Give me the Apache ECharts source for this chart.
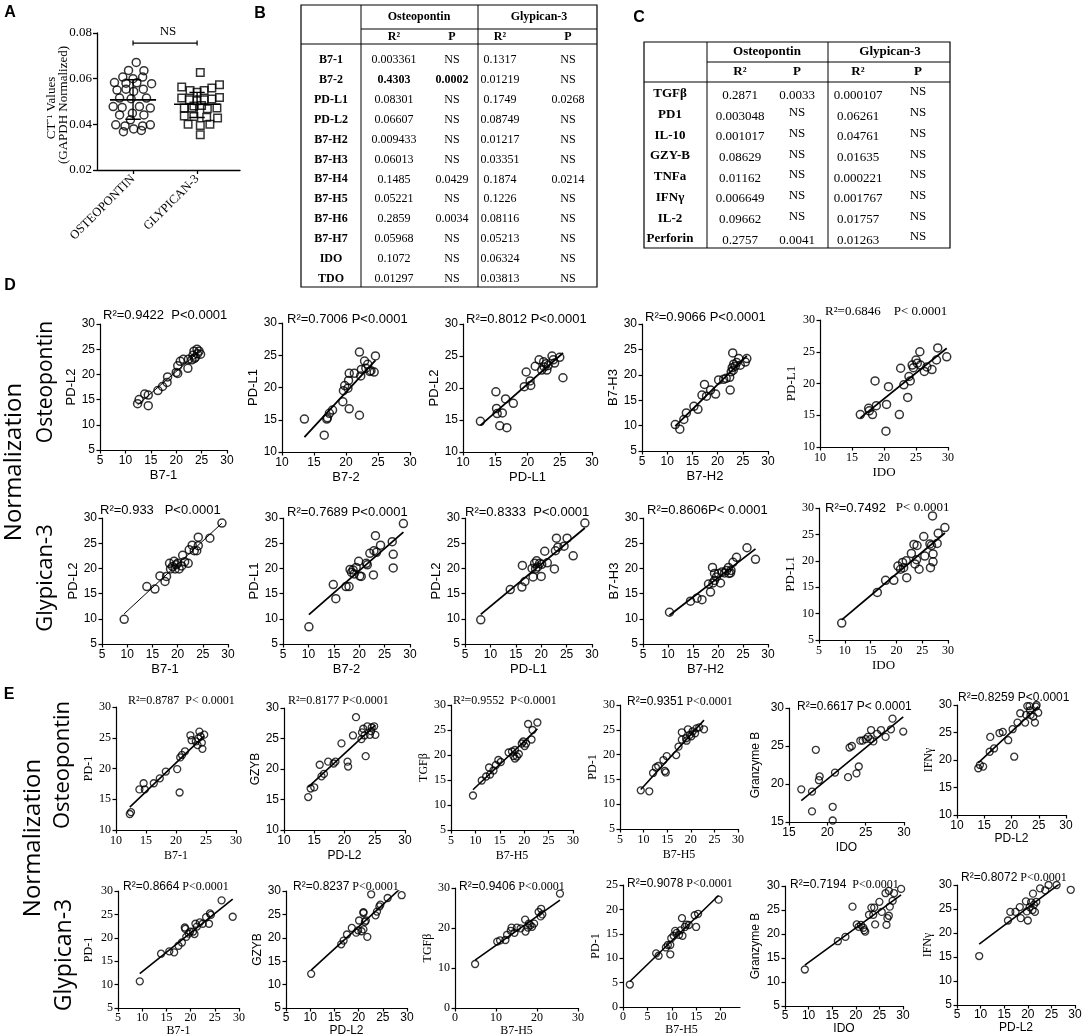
<!DOCTYPE html>
<html><head><meta charset="utf-8">
<script src="https://cdn.jsdelivr.net/npm/echarts@6/dist/echarts.min.js"></script>
<style>html,body{margin:0;padding:0;background:#fff}#c{width:1084px;height:1036px}</style>
</head><body><div id="c"></div>
<script>
// ---------------- Panel A data ----------------
const aCategories = ['OSTEOPONTIN', 'GLYPICAN-3'];
// [horizontal jitter, CT^-1 value]
const aOsteopontin = [[0.05,0.0671],[-0.07,0.0636],[0.17,0.0635],[-0.16,0.0607],[0.0,0.0600],[0.15,0.0607],[-0.29,0.0583],[-0.11,0.0580],[0.06,0.0582],[0.29,0.0578],[-0.25,0.0550],[-0.11,0.0554],[0.01,0.0544],[0.16,0.0554],[-0.21,0.0515],[-0.03,0.0512],[0.21,0.0515],[-0.31,0.0478],[-0.17,0.0474],[0.10,0.0478],[0.27,0.0471],[-0.21,0.0441],[-0.01,0.0449],[0.17,0.0441],[-0.04,0.0420],[-0.27,0.0398],[-0.125,0.0393],[0.15,0.0393],[0.27,0.0398],[0.01,0.0380],[-0.15,0.0368],[0.13,0.0373]];
const aGlypican = [[0.05,0.0627],[-0.24,0.0563],[-0.11,0.0548],[0.0,0.0540],[0.11,0.0548],[0.23,0.0559],[0.35,0.0573],[-0.24,0.0515],[-0.12,0.0508],[0.0,0.0503],[0.11,0.0508],[0.23,0.0511],[0.35,0.0518],[-0.05,0.0480],[0.07,0.0483],[-0.2,0.0471],[-0.08,0.0471],[0.16,0.0468],[0.31,0.0471],[-0.2,0.0437],[-0.05,0.0434],[0.15,0.0431],[0.32,0.0428],[-0.14,0.0400],[0.05,0.0395],[0.2,0.0400],[0.05,0.0354]];
const aMean = [0.0507, 0.0488];
const aSdLow = [0.0422, 0.0430];
const aSdHigh = [0.0595, 0.0540];
const aBracketY = 0.0756;
const aBracketText = 'NS';

// ---------------- Table B ----------------
const bRows = ['B7-1','B7-2','PD-L1','PD-L2','B7-H2','B7-H3','B7-H4','B7-H5','B7-H6','B7-H7','IDO','TDO'];
const bOpnR2 = ['0.003361','0.4303','0.08301','0.06607','0.009433','0.06013','0.1485','0.05221','0.2859','0.05968','0.1072','0.01297'];
const bOpnP  = ['NS','0.0002','NS','NS','NS','NS','0.0429','NS','0.0034','NS','NS','NS'];
const bGpcR2 = ['0.1317','0.01219','0.1749','0.08749','0.01217','0.03351','0.1874','0.1226','0.08116','0.05213','0.06324','0.03813'];
const bGpcP  = ['NS','NS','0.0268','NS','NS','NS','0.0214','NS','NS','NS','NS','NS'];
const bBoldRows = ['B7-2'];   // bold in the Osteopontin columns

// ---------------- Table C ----------------
const cRows = ['TGFβ','PD1','IL-10','GZY-B','TNFa','IFNγ','IL-2','Perforin'];
const cOpnR2 = ['0.2871','0.003048','0.001017','0.08629','0.01162','0.006649','0.09662','0.2757'];
const cOpnP  = ['0.0033','NS','NS','NS','NS','NS','NS','0.0041'];
const cGpcR2 = ['0.000107','0.06261','0.04761','0.01635','0.000221','0.001767','0.01757','0.01263'];
const cGpcP  = ['NS','NS','NS','NS','NS','NS','NS','NS'];
const tableGroups = ['Osteopontin','Glypican-3'];
const tableSub = ['R²','P','R²','P'];

// ---------------- Panel D data [x, y] ----------------
const dOpn_B71_PDL2 = [[12.4,14.2],[12.7,15.0],[13.8,16.1],[14.5,15.9],[14.5,13.8],[16.4,16.8],[17.3,17.6],[18.2,18.4],[18.3,19.5],[20.0,20.4],[20.3,20.2],[20.3,21.7],[20.8,22.6],[21.4,23.0],[22.3,21.2],[22.4,23.0],[23.1,22.9],[23.3,23.8],[23.5,24.6],[23.8,23.4],[24.1,25.0],[24.2,24.1],[24.5,24.6],[24.8,24.0],[23.6,23.2]];
const dOpn_B72_PDL1 = [[13.5,15.1],[16.6,12.6],[17.0,15.1],[17.1,15.3],[17.4,16.0],[17.9,16.5],[19.5,17.8],[19.6,19.5],[19.8,20.3],[20.3,19.9],[20.4,21.1],[20.5,22.2],[20.5,16.7],[21.3,22.2],[22.1,25.5],[22.1,15.7],[22.3,21.8],[22.4,22.8],[22.9,24.1],[23.1,23.0],[23.4,23.6],[23.7,22.5],[24.4,22.4],[24.6,24.9],[23.9,22.6]];
const dOpn_PDL1_PDL2 = [[12.7,14.8],[15.1,19.4],[15.2,16.8],[15.3,16.0],[15.7,14.1],[16.1,16.1],[16.6,18.3],[16.8,13.8],[17.8,17.6],[19.5,20.2],[19.8,22.5],[20.4,21.1],[20.5,20.4],[21.2,23.4],[21.8,24.4],[22.2,22.8],[22.5,24.1],[22.6,23.3],[22.9,23.8],[23.0,22.8],[23.2,23.5],[23.8,25.0],[24.0,24.4],[24.2,23.9],[25.0,24.8],[25.5,21.6]];
const dOpn_B7H2_B7H3 = [[11.6,10.2],[12.5,9.3],[13.3,11.2],[13.8,12.5],[15.3,13.8],[16.1,13.2],[16.9,16.0],[17.4,18.1],[17.8,15.8],[18.6,17.0],[19.6,16.2],[20.2,19.0],[21.2,19.1],[21.7,19.3],[22.4,19.5],[22.5,17.0],[22.7,20.6],[22.9,21.4],[23.0,24.3],[23.1,20.9],[23.2,22.1],[23.5,21.7],[23.8,22.4],[24.2,23.2],[24.5,21.9],[25.5,22.5],[25.8,23.2]];
const dOpn_IDO_PDL1 = [[16.3,15.1],[17.6,16.1],[17.7,15.7],[18.2,15.1],[18.6,20.4],[18.8,16.5],[20.3,12.5],[20.4,16.7],[20.7,19.5],[22.4,15.1],[22.6,22.4],[23.1,19.8],[23.7,17.8],[23.9,21.1],[24.1,20.4],[24.4,22.9],[24.6,22.5],[25.0,23.7],[25.2,23.2],[25.6,25.0],[25.7,22.9],[26.3,21.9],[26.7,22.6],[27.5,22.2],[28.2,23.7],[28.4,25.6],[29.8,24.2]];
const dGpc_B71_PDL2 = [[9.4,9.9],[13.9,16.4],[15.5,15.9],[16.5,18.5],[17.5,17.4],[17.8,18.4],[18.4,21.0],[18.6,19.9],[19.0,20.4],[19.3,21.4],[19.5,19.9],[19.7,20.7],[20.0,21.0],[20.3,19.9],[20.8,20.5],[21.0,22.6],[21.4,21.3],[22.1,21.0],[22.3,23.7],[22.9,24.6],[23.3,23.5],[23.8,23.5],[24.1,26.2],[24.1,24.5],[26.4,26.0],[28.8,29.0]];
const dGpc_B72_PDL1 = [[10.1,8.4],[14.9,16.8],[15.4,14.0],[17.4,16.4],[18.0,16.4],[18.2,19.8],[18.5,19.2],[18.8,19.7],[19.0,18.9],[19.4,20.2],[19.9,21.4],[20.1,18.5],[20.4,18.4],[21.4,21.0],[21.6,20.7],[22.1,23.0],[22.8,18.7],[22.9,23.5],[23.2,26.5],[23.4,23.2],[24.2,24.6],[26.5,25.3],[26.7,22.8],[26.7,20.1],[28.7,28.9]];
const dGpc_PDL1_PDL2 = [[8.1,9.8],[13.9,15.8],[16.2,16.3],[16.3,20.6],[16.8,17.4],[18.2,20.0],[18.4,18.3],[18.7,21.0],[18.9,19.9],[19.1,21.5],[19.3,20.3],[19.7,21.0],[20.0,18.4],[20.1,20.8],[20.7,23.4],[21.2,21.1],[22.6,19.9],[22.8,23.5],[23.0,26.0],[23.3,24.2],[24.5,24.4],[25.1,26.0],[26.3,22.5],[28.6,29.0]];
const dGpc_B7H2_B7H3 = [[10.3,11.3],[14.5,13.5],[15.8,14.1],[16.8,13.8],[18.1,16.9],[18.5,15.3],[18.9,20.2],[19.0,17.1],[19.3,17.6],[19.3,19.0],[19.7,18.3],[20.1,19.0],[20.5,17.1],[20.8,19.3],[21.3,19.1],[21.7,19.6],[22.1,20.2],[22.2,19.0],[22.5,19.1],[22.6,19.6],[23.0,21.2],[23.7,22.2],[25.8,24.1],[27.5,21.8]];
const dGpc_IDO_PDL1 = [[9.4,8.2],[16.3,14.0],[17.9,16.3],[19.5,16.3],[20.3,19.0],[20.8,18.4],[21.2,19.7],[21.4,18.7],[21.9,20.0],[22.0,16.8],[22.9,21.4],[23.4,23.1],[23.6,19.4],[23.9,20.2],[24.0,22.9],[24.4,18.4],[25.3,24.6],[25.5,20.9],[26.5,23.2],[26.6,18.7],[26.8,22.9],[27.1,21.3],[27.1,19.8],[27.9,23.3],[28.1,25.2],[29.4,26.3],[27.0,28.5]];

// ---------------- Panel E data [x, y] ----------------
const eOpn_B71_PD1 = [[12.3,12.6],[12.5,12.9],[13.9,16.6],[14.6,17.6],[14.8,16.6],[16.3,17.6],[17.3,18.4],[18.3,19.5],[20.2,19.9],[20.6,16.1],[20.7,21.8],[21.0,22.2],[21.5,22.8],[22.4,25.4],[22.6,24.6],[23.3,24.4],[23.6,23.8],[23.7,24.9],[23.9,26.0],[24.3,24.2],[24.4,23.2],[24.7,25.5],[24.1,25.2]];
const eOpn_PDL2_GZYB = [[14.0,15.4],[14.4,16.8],[15.0,17.0],[16.2,18.8],[16.6,19.2],[15.9,20.7],[17.3,21.2],[18.2,20.9],[18.5,21.2],[19.5,24.2],[20.5,21.2],[20.6,20.4],[21.4,25.5],[21.9,28.5],[22.8,24.9],[22.9,26.0],[23.1,26.6],[23.5,22.1],[23.8,27.0],[24.2,25.6],[24.5,26.8],[24.9,27.0],[25.1,25.6],[23.3,25.5],[24.4,26.2]];
const eOpn_B7H5_TGFb = [[9.5,11.9],[11.3,14.9],[12.2,15.7],[12.8,17.5],[13.7,16.9],[14.2,18.0],[14.7,19.0],[15.2,18.6],[16.8,20.5],[17.5,20.7],[17.8,19.8],[18.1,21.0],[18.1,19.3],[18.5,19.7],[19.5,22.3],[19.8,22.7],[20.1,21.8],[20.4,22.3],[20.8,26.2],[21.5,23.1],[21.7,25.0],[22.7,26.5],[18.9,20.2],[13.0,16.1]];
const eOpn_B7H5_PD1 = [[9.4,12.8],[11.2,12.6],[12.0,16.3],[12.6,17.4],[13.1,17.7],[14.5,16.7],[14.2,18.9],[14.9,19.7],[14.7,16.4],[16.9,19.9],[17.4,21.6],[18.1,23.0],[18.1,24.5],[19.1,22.8],[19.4,25.1],[19.8,24.0],[20.4,24.7],[20.9,24.3],[21.2,25.3],[21.8,25.5],[22.8,25.1],[20.1,23.7],[19.0,23.3]];
const eOpn_IDO_GrB = [[16.6,19.3],[18.0,19.0],[18.0,16.4],[18.9,20.5],[19.0,21.0],[18.5,24.5],[20.7,17.0],[20.7,15.2],[21.0,21.5],[22.7,20.9],[22.9,24.8],[23.2,25.0],[23.8,21.4],[24.1,22.3],[24.3,25.7],[24.6,25.7],[25.0,25.9],[25.3,26.2],[25.6,25.9],[25.7,27.1],[26.0,25.6],[26.5,26.6],[27.0,27.1],[27.6,26.2],[28.3,27.2],[28.5,28.6],[29.9,26.9]];
const eOpn_PDL2_IFNg = [[13.9,18.5],[14.2,19.1],[14.8,18.8],[16.1,24.2],[16.0,21.5],[16.8,22.1],[17.8,24.9],[18.4,25.1],[19.4,23.6],[20.2,25.6],[20.5,20.6],[21.1,26.8],[21.6,28.5],[22.5,26.8],[22.7,28.2],[22.9,29.8],[23.3,29.8],[23.4,29.0],[23.5,28.2],[24.0,27.9],[24.3,26.8],[24.5,29.7],[24.6,30.0],[24.9,28.6]];
const eGpc_B71_PD1 = [[9.5,10.7],[13.9,16.6],[15.6,17.1],[16.6,16.9],[17.5,18.3],[18.2,19.0],[18.8,22.2],[18.9,21.9],[19.1,20.2],[19.6,20.9],[19.9,21.3],[20.5,21.3],[20.8,20.8],[21.0,23.0],[21.3,22.4],[21.9,23.3],[22.5,23.0],[23.2,24.4],[23.8,23.0],[24.0,25.2],[24.2,24.9],[26.4,28.0],[28.7,24.5]];
const eGpc_PDL2_GZYB = [[10.2,12.3],[16.4,18.6],[16.9,19.4],[17.6,20.7],[18.6,22.1],[19.5,21.1],[19.9,21.6],[20.1,23.7],[20.6,21.4],[21.0,21.8],[21.0,25.3],[21.0,25.5],[21.3,23.4],[21.5,23.7],[21.8,20.2],[22.6,29.3],[23.5,24.8],[23.8,25.6],[24.3,26.7],[24.5,27.1],[26.0,28.5],[28.9,29.1]];
const eGpc_B7H5_TGFb = [[4.9,11.0],[10.3,16.6],[11.0,16.9],[12.3,17.0],[12.7,18.3],[13.6,19.3],[13.8,20.1],[14.5,18.8],[15.1,20.1],[16.0,19.9],[17.1,22.1],[17.2,19.1],[17.8,20.1],[18.0,21.1],[18.4,20.7],[18.8,20.3],[19.3,21.1],[20.4,24.0],[21.0,24.8],[21.3,23.4],[20.9,22.9],[25.6,28.6]];
const eGpc_B7H5_PD1 = [[1.4,4.6],[6.8,11.0],[7.3,10.5],[8.8,12.2],[9.2,12.7],[9.7,10.8],[9.7,12.7],[9.9,14.1],[10.4,14.6],[10.7,15.6],[11.5,14.8],[11.8,15.7],[12.1,18.2],[12.2,14.6],[12.7,16.4],[13.0,16.9],[13.5,16.8],[14.7,18.8],[15.0,16.4],[15.4,19.1],[19.6,22.0],[11.0,15.2]];
const eGpc_IDO_GrB = [[9.2,12.6],[16.2,18.5],[17.8,19.4],[19.3,25.7],[20.2,22.0],[20.6,21.5],[21.1,21.9],[21.6,21.3],[21.8,20.8],[22.0,20.5],[22.8,24.0],[23.3,25.5],[23.7,24.0],[23.9,25.5],[24.1,22.0],[25.0,26.7],[25.5,24.6],[26.3,28.5],[26.5,21.9],[26.7,23.3],[27.0,29.0],[27.0,23.8],[27.2,25.7],[27.8,26.9],[28.1,28.5],[29.6,29.4]];
const eGpc_PDL2_IFNg = [[9.7,15.2],[15.8,22.6],[16.3,24.4],[17.4,24.4],[18.3,25.4],[18.5,23.1],[19.6,26.6],[19.8,24.5],[20.0,22.6],[20.4,25.4],[20.7,26.4],[21.0,24.8],[21.1,28.2],[21.3,25.9],[21.5,24.4],[21.8,26.5],[22.6,29.3],[23.7,28.9],[24.4,30.0],[26.1,30.0],[29.1,29.0]];

// ---------------- fonts ----------------
const S = '"Liberation Sans", Arial, sans-serif';
const R = '"Liberation Serif", "Times New Roman", serif';
const O = '"Open Sans", "Liberation Sans", sans-serif';

// ---------------- scatter panel layout ----------------
const Dd = {tfs:12, nfs:13, sym:8, bw:1.5, lw:1.8, xg:19, yg:22, ts:13, tf:S, xnf:S, ynf:S, ttf:[S,S], lm:5};
const Ee = {tfs:12, nfs:12, sym:7, bw:1.3, lw:1.6, xg:18, yg:20, ts:12, lm:5};
const plots = [
  Object.assign({}, Dd, {data:dOpn_B71_PDL2, box:[100,324,227,450], xr:[5,30,5], yr:[5,30,5], xn:'B7-1', yn:'PD-L2', t:['R²=0.9422','  P<0.0001'], tp:[103,315], lw:1}),
  Object.assign({}, Dd, {data:dOpn_B72_PDL1, box:[282,323,410,452], xr:[10,30,5], yr:[10,30,5], xn:'B7-2', yn:'PD-L1', t:['R²=0.7006',' P<0.0001'], tp:[287,319]}),
  Object.assign({}, Dd, {data:dOpn_PDL1_PDL2, box:[463,324,592,452], xr:[10,30,5], yr:[10,30,5], xn:'PD-L1', yn:'PD-L2', t:['R²=0.8012',' P<0.0001'], tp:[466,319]}),
  Object.assign({}, Dd, {data:dOpn_B7H2_B7H3, box:[642,324,768,451], xr:[5,30,5], yr:[5,30,5], xn:'B7-H2', yn:'B7-H3', t:['R²=0.9066',' P<0.0001'], tp:[645,317]}),
  Object.assign({}, Dd, {data:dOpn_IDO_PDL1, box:[820,320,948,447], xr:[10,30,5], yr:[10,30,5], xn:'IDO', yn:'PD-L1', t:['R²=0.6846','    P< 0.0001'], tp:[825,312], tf:R, xnf:R, ynf:R, ttf:[R,R]}),
  Object.assign({}, Dd, {data:dGpc_B71_PDL2, box:[102,518,228,644], xr:[5,30,5], yr:[5,30,5], xn:'B7-1', yn:'PD-L2', t:['R²=0.933','   P<0.0001'], tp:[100,510], lw:1}),
  Object.assign({}, Dd, {data:dGpc_B72_PDL1, box:[283,518,410,644], xr:[5,30,5], yr:[5,30,5], xn:'B7-2', yn:'PD-L1', t:['R²=0.7689',' P<0.0001'], tp:[287,512]}),
  Object.assign({}, Dd, {data:dGpc_PDL1_PDL2, box:[465,518,592,644], xr:[5,30,5], yr:[5,30,5], xn:'PD-L1', yn:'PD-L2', t:['R²=0.8333','  P<0.0001'], tp:[465,512]}),
  Object.assign({}, Dd, {data:dGpc_B7H2_B7H3, box:[643,518,768,644], xr:[5,30,5], yr:[5,30,5], xn:'B7-H2', yn:'B7-H3', t:['R²=0.8606','P< 0.0001'], tp:[647,510]}),
  Object.assign({}, Dd, {data:dGpc_IDO_PDL1, box:[819,508,948,640], xr:[5,30,5], yr:[5,30,5], xn:'IDO', yn:'PD-L1', t:['R²=0.7492','   P< 0.0001'], tp:[825,508], tf:R, xnf:R, ynf:R, ttf:[S,R]}),

  Object.assign({}, Ee, {data:eOpn_B71_PD1, box:[116,707,236,830], xr:[10,30,5], yr:[10,30,5], xn:'B7-1', yn:'PD-1', t:['R²=0.8787','  P< 0.0001'], tp:[128,701], tf:R, xnf:R, ynf:R, ttf:[R,R], yg:21, xg:20}),
  Object.assign({}, Ee, {data:eOpn_PDL2_GZYB, box:[284,708,405,830], xr:[10,30,5], yr:[10,30,5], xn:'PD-L2', yn:'GZYB', t:['R²=0.8177',' P<0.0001'], tp:[288,701], tf:S, xnf:S, ynf:S, ttf:[R,R], yg:16, xg:20}),
  Object.assign({}, Ee, {data:eOpn_B7H5_TGFb, box:[451,705,573,830], xr:[5,30,5], yr:[5,30,5], xn:'B7-H5', yn:'TGFβ', t:['R²=0.9552','  P<0.0001'], tp:[453,701], tf:R, xnf:R, ynf:R, ttf:[R,R], yg:11, xg:20}),
  Object.assign({}, Ee, {data:eOpn_B7H5_PD1, box:[620,705,738,829], xr:[5,30,5], yr:[5,30,5], xn:'B7-H5', yn:'PD-1', t:['R²=0.9351',' P<0.0001'], tp:[627,702], tf:R, xnf:R, ynf:R, ttf:[S,R], yg:20, xg:20}),
  Object.assign({}, Ee, {data:eOpn_IDO_GrB, box:[789,708,904,822], xr:[15,30,5], yr:[15,30,5], xn:'IDO', yn:'Granzyme B', t:['R²=0.6617',' P< 0.0001'], tp:[797,707], tf:S, xnf:S, ynf:S, ttf:[S,S], yg:27, xg:20}),
  Object.assign({}, Ee, {data:eOpn_PDL2_IFNg, box:[957,705,1066,815], xr:[10,30,5], yr:[10,30,5], xn:'PD-L2', yn:'IFNγ', t:['R²=0.8259',' P<0.0001'], tp:[958,698], tf:S, xnf:S, ynf:R, ttf:[S,S], yg:20, xg:18}),
  Object.assign({}, Ee, {data:eGpc_B71_PD1, box:[118,891,239,1008], xr:[5,30,5], yr:[5,30,5], xn:'B7-1', yn:'PD-1', t:['R²=0.8664',' P<0.0001'], tp:[123,887], tf:R, xnf:R, ynf:R, ttf:[S,R], yg:23, xg:14, lm:4}),
  Object.assign({}, Ee, {data:eGpc_PDL2_GZYB, box:[286,891,407,1008], xr:[5,30,5], yr:[5,30,5], xn:'PD-L2', yn:'GZYB', t:['R²=0.8237',' P<0.0001'], tp:[293,887], tf:S, xnf:S, ynf:S, ttf:[S,R], yg:18, xg:14, lm:4}),
  Object.assign({}, Ee, {data:eGpc_B7H5_TGFb, box:[455,888,578,1008], xr:[0,30,10], yr:[0,30,10], xn:'B7-H5', yn:'TGFβ', t:['R²=0.9406',' P<0.0001'], tp:[459,887], tf:R, xnf:R, ynf:R, ttf:[S,R], yg:19, xg:14, lm:4}),
  Object.assign({}, Ee, {data:eGpc_B7H5_PD1, box:[623,885,740,1007], xr:[0,24,5], xCustom:[0,5,10,15,20], yr:[0,25,5], xn:'B7-H5', yn:'PD-1', t:['R²=0.9078',' P<0.0001'], tp:[627,884], tf:R, xnf:R, ynf:R, ttf:[S,R], yg:17, xg:14, lm:4}),
  Object.assign({}, Ee, {data:eGpc_IDO_GrB, box:[785,886,903,1006], xr:[5,30,5], yr:[5,30,5], xn:'IDO', yn:'Granzyme B', t:['R²=0.7194','  P<0.0001'], tp:[790,885], tf:S, xnf:S, ynf:S, ttf:[S,R], yg:23, xg:14, lm:4}),
  Object.assign({}, Ee, {data:eGpc_PDL2_IFNg, box:[957,885,1075,1005], xr:[5,30,5], yr:[5,30,5], xn:'PD-L2', yn:'IFNγ', t:['R²=0.8072',' P<0.0001'], tp:[961,878], tf:S, xnf:S, ynf:R, ttf:[S,R], yg:23, xg:14, lm:4})
];

function fitLine(pts) {
  const n = pts.length; let sx=0, sy=0, sxx=0, sxy=0, mn=Infinity, mx=-Infinity;
  pts.forEach(([x,y]) => { sx+=x; sy+=y; sxx+=x*x; sxy+=x*y; mn=Math.min(mn,x); mx=Math.max(mx,x); });
  const b = (n*sxy - sx*sy) / (n*sxx - sx*sx); const a = (sy - b*sx)/n;
  return [[mn, a+b*mn], [mx, a+b*mx]];
}

const BLACK = '#000';
const grids = [], xAxes = [], yAxes = [], series = [], gfx = [];

function txt(text, x, y, o) {
  o = o || {};
  return {type:'text', x:x, y:y, rotation:o.rot||0, silent:true, z:100,
    style:{text:text, fill:BLACK, fontSize:o.fs||12, fontFamily:o.ff||R, fontWeight:o.fw||'normal',
      textAlign:o.al||'center', align:o.al||'center', textVerticalAlign:'middle', verticalAlign:'middle'}};
}
function ln(x1,y1,x2,y2,w) { return {type:'line', silent:true, z:90, shape:{x1,y1,x2,y2}, style:{stroke:BLACK, lineWidth:w||1}}; }

// ---------------- Panel A ----------------
grids.push({left:97, top:33, width:143, height:137, outerBoundsMode:'none'});
xAxes.push({gridIndex:0, type:'value', min:-0.5625, max:1.67,
  axisLine:{show:true, onZero:false, lineStyle:{color:BLACK, width:1.3}},
  axisTick:{show:true, customValues:[0,1], length:4, lineStyle:{color:BLACK, width:1.3}},
  axisLabel:{customValues:[0,1], formatter:v => aCategories[Math.round(v)], rotate:45, fontFamily:R, fontSize:12.5, color:BLACK, margin:7},
  splitLine:{show:false}});
yAxes.push({gridIndex:0, type:'value', min:0.02, max:0.08, interval:0.02,
  axisLine:{show:true, onZero:false, lineStyle:{color:BLACK, width:1.3}},
  axisTick:{show:true, length:4, lineStyle:{color:BLACK, width:1.3}},
  axisLabel:{formatter:v => v.toFixed(2), fontFamily:R, fontSize:13, color:BLACK, margin:5},
  splitLine:{show:false}});
series.push({type:'scatter', xAxisIndex:0, yAxisIndex:0, data:aOsteopontin.map(([j,v]) => [0+j, v]), symbol:'circle', symbolSize:8,
  itemStyle:{color:'rgba(255,255,255,0)', borderColor:BLACK, borderWidth:1.5}, silent:true, z:3});
series.push({type:'scatter', xAxisIndex:0, yAxisIndex:0, data:aGlypican.map(([j,v]) => [1+j, v]), symbol:'rect', symbolSize:7.5,
  itemStyle:{color:'rgba(255,255,255,0)', borderColor:BLACK, borderWidth:1.5}, silent:true, z:3});
function segA(data, w) { series.push({type:'line', xAxisIndex:0, yAxisIndex:0, data:data, symbol:'none', silent:true, z:4, lineStyle:{color:BLACK, width:w||1.5}}); }
aMean.forEach((m, i) => {
  segA([[i-0.36, m],[i+0.36, m]], 1.6);
  segA([[i, aSdLow[i]],[i, aSdHigh[i]]], 1.4);
  segA([[i-0.12, aSdLow[i]],[i+0.12, aSdLow[i]]], 1.4);
  segA([[i-0.12, aSdHigh[i]],[i+0.12, aSdHigh[i]]], 1.4);
});
segA([[0, aBracketY],[1, aBracketY]], 1.2);
segA([[0, aBracketY+0.0011],[0, aBracketY-0.0011]], 1.2);
segA([[1, aBracketY+0.0011],[1, aBracketY-0.0011]], 1.2);
gfx.push(txt(aBracketText, 168, 32, {fs:13, ff:R}));
gfx.push(txt('CT⁻¹ Values', 52, 108, {fs:13, ff:R, rot:Math.PI/2}));
gfx.push(txt('(GAPDH Normalized)', 64, 105, {fs:13, ff:R, rot:Math.PI/2}));

// ---------------- scatter panels ----------------
plots.forEach((p, k) => {
  const g = k + 1;
  const b = p.box;
  grids.push({left:b[0], top:b[1], width:b[2]-b[0], height:b[3]-b[1], outerBoundsMode:'none'});
  const common = {
    axisLine:{show:true, onZero:false, lineStyle:{color:BLACK, width:1.2}},
    splitLine:{show:false}, nameLocation:'middle'
  };
  const xa = Object.assign({gridIndex:g, type:'value', min:p.xr[0], max:p.xr[1], interval:p.xr[2], name:p.xn, nameGap:p.xg,
    nameTextStyle:{fontFamily:p.xnf, fontSize:p.nfs, color:BLACK},
    axisTick:{show:true, length:3.5, lineStyle:{color:BLACK, width:1.2}},
    axisLabel:{fontFamily:p.tf, fontSize:p.tfs, color:BLACK, margin:p.lm}}, common);
  if (p.xCustom) { xa.axisTick.customValues = p.xCustom; xa.axisLabel.customValues = p.xCustom; }
  const ya = Object.assign({gridIndex:g, type:'value', min:p.yr[0], max:p.yr[1], interval:p.yr[2], name:p.yn, nameGap:p.yg,
    nameTextStyle:{fontFamily:p.ynf, fontSize:p.nfs, color:BLACK},
    axisTick:{show:true, length:3.5, lineStyle:{color:BLACK, width:1.2}},
    axisLabel:{fontFamily:p.tf, fontSize:p.tfs, color:BLACK, margin:5}}, common);
  xAxes.push(xa); yAxes.push(ya);
  series.push({type:'scatter', xAxisIndex:g, yAxisIndex:g, data:p.data, symbol:'circle', symbolSize:p.sym,
    itemStyle:{color:'rgba(255,255,255,0)', borderColor:BLACK, borderWidth:p.bw}, silent:true, z:3});
  series.push({type:'line', xAxisIndex:g, yAxisIndex:g, data:fitLine(p.data), symbol:'none', silent:true, z:2,
    lineStyle:{color:BLACK, width:p.lw}});
  gfx.push({type:'text', x:p.tp[0], y:p.tp[1], silent:true, z:100,
    style:{text:'{a|' + p.t[0] + '}{b|' + p.t[1] + '}', textAlign:'left', align:'left', textVerticalAlign:'middle', verticalAlign:'middle',
      rich:{a:{fontFamily:p.ttf[0], fontSize:p.ts, fill:BLACK}, b:{fontFamily:p.ttf[1], fontSize:p.ts, fill:BLACK}}}});
});

// ---------------- tables ----------------
function drawTable(L, rows, cols, boldRows, boldCols) {
  gfx.push({type:'rect', silent:true, z:90, shape:{x:L.x0, y:L.y0, width:L.x1-L.x0, height:L.y1-L.y0}, style:{fill:'none', stroke:BLACK, lineWidth:1.2}});
  L.div.forEach(x => gfx.push(ln(x, L.y0, x, L.y1, 1)));
  gfx.push(ln(L.div[0], L.h1, L.x1, L.h1, 1));
  gfx.push(ln(L.x0, L.h2, L.x1, L.h2, 1));
  tableGroups.forEach((t, i) => gfx.push(txt(t, L.grp[i], L.hy[0], {fs:L.fs, ff:R, fw:'bold'})));
  tableSub.forEach((t, i) => gfx.push(txt(t, L.cx[i+1], L.hy[1], {fs:L.fs, ff:R, fw:'bold'})));
  rows.forEach((r, i) => {
    const y = L.ry0 + i * L.rdy;
    const bold = boldRows.indexOf(r) >= 0;
    gfx.push(txt(r, L.cx[0], y, {fs:L.fs, ff:R, fw:'bold'}));
    cols.forEach((c, j) => {
      const v = c[i];
      const dy = (v === 'NS') ? L.nsdy : L.vdy;
      gfx.push(txt(v, L.cx[j+1], y + dy, {fs:L.fs, ff:R, fw: (bold && boldCols.indexOf(j) >= 0) ? 'bold' : 'normal'}));
    });
  });
}
drawTable({x0:301, x1:597, y0:5, y1:287, div:[361,478], h1:29, h2:44, grp:[419,539], hy:[17,37], cx:[331,394,452,500,568], ry0:60, rdy:19.9, fs:12, nsdy:0, vdy:0},
  bRows, [bOpnR2, bOpnP, bGpcR2, bGpcP], bBoldRows, [0,1]);
drawTable({x0:644, x1:950, y0:42, y1:248, div:[707,828], h1:62, h2:82, grp:[767,890], hy:[52,72], cx:[670,740,797,858,918], ry0:94, rdy:20.7, fs:13, nsdy:-2, vdy:1.5},
  cRows, [cOpnR2, cOpnP, cGpcR2, cGpcP], [], []);

// ---------------- labels ----------------
[['A',10,13],['B',260,14],['C',639,18],['D',10,286],['E',9,695]].forEach(([t,x,y]) => gfx.push(txt(t, x, y, {fs:16, ff:S, fw:'bold'})));
gfx.push(txt('Normalization', 14, 462, {fs:24, ff:O, rot:Math.PI/2}));
gfx.push(txt('Osteopontin', 46, 382, {fs:21, ff:O, rot:Math.PI/2}));
gfx.push(txt('Glypican-3', 46, 578, {fs:22, ff:O, rot:Math.PI/2}));
gfx.push(txt('Normalization', 33, 838, {fs:24, ff:O, rot:Math.PI/2}));
gfx.push(txt('Osteopontin', 63, 765, {fs:22, ff:O, rot:Math.PI/2}));
gfx.push(txt('Glypican-3', 64, 955, {fs:23, ff:O, rot:Math.PI/2}));

const chart = echarts.init(document.getElementById('c'), null, {renderer:'canvas'});
chart.setOption({
  animation:false, backgroundColor:'#fff',
  textStyle:{fontFamily:S, color:BLACK},
  grid:grids, xAxis:xAxes, yAxis:yAxes, series:series,
  graphic:{elements:gfx}
});
</script></body></html>
